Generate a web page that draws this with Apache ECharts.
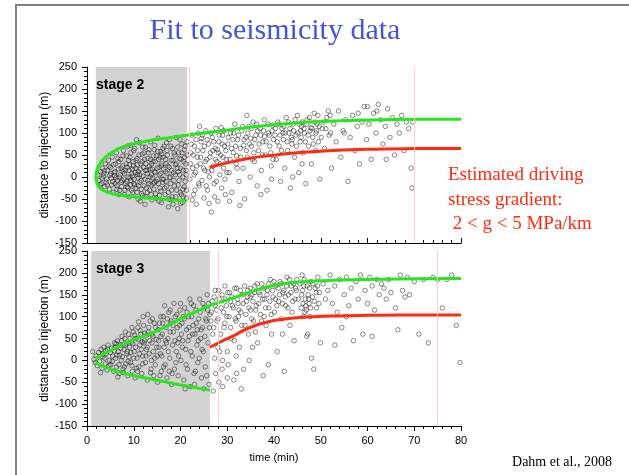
<!DOCTYPE html>
<html>
<head>
<meta charset="utf-8">
<script src="https://cdn.jsdelivr.net/npm/echarts@6/dist/echarts.min.js"></script>
<style>html,body{margin:0;padding:0;background:#fff}#c{width:629px;height:475px}</style>
</head>
<body>
<div id="c"></div>
<script>
// ---------- data ----------
const titleText = 'Fit to seismicity data';
const yTicks = { min: -150, max: 250, step: 50 };
const xTicks = { min: 0, max: 80, step: 10 };

const stage2Shade = [1.9, 21.4];
const stage2Marks = [21.9, 69.9];
const stage3Shade = [0.9, 26.3];
const stage3Marks = [28.0, 75.0];

const stage2Points = [
[2.3,5],[2.6,-8],[2.9,12],[3.1,-15],[3.3,20],[3.5,2],[3.8,-22],[3.9,30],[4.2,-5],[4.4,15],[4.6,38],[4.8,-28],[2.8,-18],[3.6,8],[4.1,-12],
[5.0,22],[5.2,-3],[5.4,45],[5.6,-35],[5.8,10],[6.0,-15],[6.1,30],[6.3,55],[6.5,-8],[6.7,18],[6.9,-40],[7.1,5],[7.2,40],[7.4,-22],[7.6,25],[7.8,60],[7.9,-5],[5.3,-18],[5.9,3],[6.4,-28],[6.8,35],[7.3,-12],[7.7,12],[5.1,8],[6.2,-2],
[8.1,-30],[8.2,15],[8.4,48],[8.5,-10],[8.7,70],[8.8,0],[9.0,-45],[9.1,28],[9.3,-18],[9.4,55],[9.6,8],[9.8,-35],[9.9,35],[10.1,-5],[10.2,65],[10.4,20],[10.5,-25],[10.7,42],[10.9,-50],[11.0,12],[11.2,78],[11.3,-12],[11.5,30],[11.7,-38],[11.8,52],[12.0,2],[8.6,-22],[9.2,-2],[10.0,-15],[10.8,6],[11.6,-28],[9.7,18],[10.6,85],[11.4,-55],[8.9,38],
[12.2,-20],[12.3,40],[12.5,68],[12.6,-45],[12.8,15],[13.0,-8],[13.1,55],[13.3,25],[13.4,-30],[13.6,80],[13.8,5],[13.9,-52],[14.1,35],[14.2,-15],[14.4,62],[14.6,10],[14.7,-38],[14.9,48],[15.1,-5],[15.2,88],[15.4,22],[15.6,-25],[15.7,58],[15.9,-58],[16.0,30],[12.9,-35],[13.5,0],[14.0,18],[14.8,-10],[15.3,40],[15.8,8],[12.4,-62],[13.7,-18],[14.5,72],[15.5,-42],
[16.2,-12],[16.3,45],[16.5,70],[16.7,-40],[16.8,12],[17.0,-22],[17.1,60],[17.3,25],[17.5,-50],[17.6,85],[17.8,0],[18.0,38],[18.1,-30],[18.3,65],[18.5,10],[18.6,-8],[18.8,50],[19.0,-45],[19.1,90],[19.3,20],[19.5,-18],[19.6,55],[19.8,5],[20.0,-60],[20.1,40],[20.3,75],[20.5,-28],[20.6,15],[20.8,62],[21.0,-10],[21.1,30],[21.3,-48],[21.4,80],[16.9,30],[17.9,-15],[18.9,28],[19.9,-35],[20.9,45],[21.2,5],[17.4,-68],[18.4,-62],[19.4,-72],[20.4,-58],[16.4,-5],
[3.2,-3],[3.7,14],[4.3,-18],[4.7,25],[4.9,4],[5.5,-10],[5.7,28],[6.0,12],[6.4,-20],[6.6,42],[6.9,0],[7.0,-30],[7.3,20],[7.5,-8],[7.7,48],[8.0,8],[8.3,-15],[8.4,30],[8.6,22],[8.8,-25],[9.0,15],[9.2,45],[9.4,-8],[9.5,-30],[9.7,2],[9.9,25],[10.0,60],[10.2,-18],[10.3,10],[10.5,38],[10.7,-35],[10.8,28],[11.0,-20],[11.1,50],[11.3,5],[11.4,18],[11.6,-8],[11.8,35],[11.9,-42],[12.1,22],[12.2,55],[12.4,-5],[12.6,30],[12.7,-25],[12.9,8],[13.0,42],[13.2,-15],[13.3,62],[13.5,18],[13.7,-40],[13.8,30],[14.0,-2],[14.2,48],[14.3,-28],[14.5,12],[14.6,35],[14.8,-48],[15.0,20],[15.1,58],[15.3,-15],[15.5,5],[15.6,45],[15.8,-32],[15.9,25],[16.1,-5],[16.2,65],[16.4,18],[16.6,-25],[16.8,40],[16.9,-10],[17.1,8],[17.2,50],[17.4,-35],[17.6,22],[17.7,-2],[17.9,70],[18.1,15],[18.2,-45],[18.4,38],[18.6,55],[18.7,-20],[18.9,5],[19.1,30],[19.2,-30],[19.4,68],[19.5,12],[19.7,-8],[19.8,42],[20.0,20],[20.2,-40],[20.3,55],[20.5,0],[20.7,35],[20.8,-22],[21.0,70],[21.2,15],[21.3,-30],[21.4,50],[10.9,-2],[12.5,15],[14.4,-12],[16.0,52],[18.0,-52],[19.9,85],[9.3,72],[8.0,-40],[11.9,68],[13.6,40],[15.4,-55],[17.0,78],[20.6,-45],
[22.0,-5],[22.2,55],[22.4,95],[22.6,20],[22.8,-40],[23.0,70],[23.2,10],[23.4,-62],[23.6,45],[23.8,100],[24.0,-20],[24.2,30],[24.4,80],[24.6,-8],[24.8,60],[25.0,-48],[25.2,15],[25.4,105],[25.6,40],[25.8,-30],[26.0,75],[26.2,0],[26.4,55],[26.6,-80],[26.8,90],[27.0,25],[27.2,-15],[27.4,65],[27.6,110],[27.8,35],[28.0,-55],[28.2,80],[28.4,5],[28.6,50],[28.8,-25],[29.0,95],[29.2,20],[29.4,70],[29.6,-40],[29.8,40],[23.1,-30],[24.5,88],[25.9,12],[27.3,-45],[28.7,112],[29.5,-5],[24.1,115],[26.1,-60],[22.5,-52],[27.9,62],
[22.1,30],[22.3,75],[22.7,50],[22.9,5],[23.3,85],[23.5,25],[23.7,60],[23.9,-15],[24.3,45],[24.7,95],[24.9,20],[25.1,70],[25.3,35],[25.5,-20],[25.7,85],[26.3,45],[26.5,100],[26.7,15],[26.9,60],[27.1,80],[27.5,40],[27.7,-10],[28.1,55],[28.3,95],[28.5,30],[28.9,75],[29.1,45],[29.3,105],[29.7,60],[29.9,10],
[30.1,75],[30.4,10],[30.7,100],[31.0,-35],[31.3,55],[31.6,120],[31.9,30],[32.2,85],[32.5,-10],[32.8,65],[33.1,105],[33.4,20],[33.7,-50],[34.0,90],[34.3,45],[34.6,115],[34.9,0],[35.2,70],[35.5,125],[35.8,35],[36.1,95],[36.4,-20],[36.7,60],[37.0,110],[37.3,15],[37.6,80],[37.9,130],[38.2,50],[38.5,-30],[38.8,100],[39.1,70],[39.4,25],[39.7,118],[31.2,85],[32.0,48],[33.5,72],[35.0,88],[36.5,105],[38.0,92],[39.5,-5],[30.5,-55],[34.2,140],[37.2,-40],[32.7,-65],[35.7,55],[39.9,85],
[30.2,90],[30.6,40],[30.9,65],[31.4,100],[31.8,70],[32.1,20],[32.4,95],[32.9,45],[33.3,115],[33.6,85],[34.1,60],[34.4,100],[34.8,75],[35.1,110],[35.4,40],[35.9,85],[36.3,120],[36.8,75],[37.1,95],[37.5,50],[37.8,105],[38.3,80],[38.7,120],[39.0,95],[39.3,55],[39.6,105],[39.8,40],
[40.2,95],[40.5,40],[40.8,125],[41.1,70],[41.4,-10],[41.7,110],[42.0,85],[42.3,20],[42.6,135],[42.9,60],[43.2,100],[43.5,-25],[43.8,75],[44.1,120],[44.4,45],[44.7,95],[45.0,140],[45.3,10],[45.6,80],[45.9,115],[46.2,55],[46.5,100],[46.8,-15],[47.1,130],[47.4,70],[47.7,105],[48.0,30],[48.3,90],[48.6,145],[48.9,60],[49.2,120],[49.5,80],[49.8,-5],[41.9,100],[43.9,85],[45.7,105],[47.9,112],[44.0,0],[46.0,30],[49.0,100],
[40.3,110],[40.7,80],[41.0,120],[41.3,95],[41.6,60],[42.1,115],[42.4,100],[42.8,80],[43.1,125],[43.4,110],[43.7,90],[44.2,105],[44.5,130],[44.8,70],[45.1,100],[45.4,120],[45.8,90],[46.1,125],[46.4,110],[46.7,80],[47.0,120],[47.3,95],[47.6,135],[48.1,110],[48.4,75],[48.8,125],[49.1,105],[49.4,140],[49.7,115],
[50.3,110],[50.8,65],[51.3,135],[51.8,95],[52.3,20],[52.8,120],[53.3,80],[53.8,150],[54.3,45],[54.8,105],[55.3,130],[55.8,-10],[56.3,90],[56.8,140],[57.3,60],[57.8,115],[58.3,30],[58.8,125],[59.3,160],[59.8,85],[60.3,120],[60.8,40],[61.3,145],[61.8,100],[62.3,165],[62.8,130],[63.3,75],[63.8,115],[64.3,155],[64.8,90],[65.3,135],[65.8,50],[66.3,120],[66.8,100],[67.3,140],[67.8,60],[68.3,125],[68.8,110],[69.3,20],[69.5,-25],[69.7,125],[62.0,150],[60.0,160],[55.0,100],[52.0,140],[58.0,145],[64.0,40],
[50.1,90],[50.6,125],[51.1,110],[51.6,150],[52.1,100]
];

const stage3Points = [
[1.5,2],[1.8,-5],[2.0,10],[2.2,-12],[2.5,18],[2.7,-2],[3.0,25],[3.2,-18],[3.4,8],[3.6,30],[3.9,-8],[4.1,15],[4.3,-22],[4.5,35],[4.8,0],[1.2,20],[2.9,-28],[4.0,22],
[5.1,-10],[5.3,28],[5.5,10],[5.7,-25],[5.9,40],[6.1,5],[6.3,-15],[6.5,45],[6.7,20],[6.9,-30],[7.1,35],[7.3,0],[7.5,55],[7.7,-20],[7.9,25],[8.1,50],[8.3,-8],[8.5,15],[8.7,-35],[8.9,60],[9.1,30],[9.3,-5],[9.5,42],[9.7,-25],[9.9,65],[6.0,30],[7.0,12],[8.0,-15],[9.0,8],[6.6,-38],[8.4,38],
[10.1,20],[10.3,-40],[10.5,50],[10.7,5],[10.9,75],[11.1,-15],[11.3,35],[11.5,60],[11.7,-30],[11.9,10],[12.1,80],[12.3,45],[12.5,-5],[12.7,25],[12.9,-45],[13.1,65],[13.3,15],[13.5,90],[13.7,-20],[13.9,40],[14.1,55],[14.3,-35],[14.5,5],[14.7,75],[14.9,30],[10.8,-25],[11.8,42],[12.8,58],[13.8,0],[14.6,-10],[12.0,100],[14.0,95],
[15.1,-50],[15.3,45],[15.5,85],[15.7,15],[15.9,-25],[16.1,60],[16.3,100],[16.5,30],[16.7,-10],[16.9,75],[17.1,-40],[17.3,50],[17.5,110],[17.7,5],[17.9,85],[18.1,-55],[18.3,35],[18.5,65],[18.7,-20],[18.9,100],[19.1,20],[19.3,75],[19.5,-35],[19.7,50],[19.9,115],[16.0,10],[17.0,40],[18.0,90],[19.0,-5],[15.6,-35],[17.6,-25],[19.4,40],[16.6,125],[18.6,130],
[20.1,0],[20.3,85],[20.5,45],[20.7,-45],[20.9,120],[21.1,25],[21.3,70],[21.5,-20],[21.7,100],[21.9,55],[22.1,-60],[22.3,130],[22.5,10],[22.7,80],[22.9,-30],[23.1,60],[23.3,115],[23.5,35],[23.7,-5],[23.9,95],[24.1,140],[24.3,50],[24.5,-40],[24.7,75],[24.9,20],[25.1,120],[25.3,-15],[25.5,90],[25.7,150],[25.9,40],[26.1,-55],[26.3,105],[21.0,-65],[23.0,-55],[25.0,-65],[22.0,140],[24.0,5],[26.0,130],[20.6,100],[23.6,70],
[3.3,14],[3.8,5],[4.4,25],[4.7,-12],[5.0,18],[5.4,-2],[5.8,22],[6.2,38],[6.4,12],[6.8,-10],[7.2,28],[7.4,45],[7.6,8],[7.8,-28],[8.2,35],[8.6,20],[8.8,-2],[9.2,50],[9.4,18],[9.6,-12],[9.8,38],[10.0,5],[10.2,58],[10.4,30],[10.6,-18],[11.0,48],[11.2,15],[11.4,68],[11.6,25],[11.9,-8],[12.2,40],[12.4,62],[12.6,10],[12.9,30],[13.2,75],[13.4,45],[13.6,-28],[13.9,60],[14.2,20],[14.4,85],[14.8,48],[15.0,10],[15.2,70],[15.4,30],[15.8,55],[16.2,85],[16.4,-15],[16.8,45],[17.2,95],[17.4,20],[17.8,65],[18.2,-30],[18.4,80],[18.8,45],[19.2,105],[19.6,10],[19.8,80],[20.2,60],[20.4,30],[20.8,95],[21.2,-10],[21.4,110],[21.6,45],[21.8,75],[22.2,20],[22.4,100],[22.6,60],[22.8,125],[23.2,-25],[23.4,85],[23.8,45],[24.2,110],[24.4,70],[24.6,25],[24.8,130],[25.2,55],[25.4,95],[25.6,-35],[25.8,115],[26.2,75],[15.8,100],[17.8,115],[20.0,130],[13.0,105],[11.0,88],[9.6,75],[8.2,65],
[26.6,110],[26.9,60],[27.2,145],[27.5,-30],[27.8,90],[28.1,160],[28.4,20],[28.7,120],[29.0,-60],[29.3,75],[29.6,140],[29.9,100],[30.2,-10],[30.5,155],[30.8,50],[31.1,125],[31.4,-45],[31.7,95],[32.0,165],[32.3,130],[32.6,30],[32.9,110],[33.2,150],[33.5,-20],[33.8,80],[34.1,135],[34.4,160],[34.7,0],[35.0,115],[27.0,-70],[28.0,30],[29.5,170],[30.0,-40],[31.5,45],[33.0,-65],[34.5,60],[27.4,125],[30.7,135],[32.4,100],[34.9,145],[28.9,-20],[31.9,10],
[26.5,90],[26.8,135],[27.1,75],[27.4,160],[27.7,115],[28.0,95],[28.3,140],[28.6,60],[28.9,150],[29.2,110],[29.5,85],[29.8,125],[30.1,155],[30.4,100],[30.7,75],[31.0,145],[31.3,120],[31.6,165],[31.9,90],[32.2,140],[32.5,115],[32.8,160],[33.1,80],[33.4,130],[33.7,170],[34.0,105],[34.3,145],[34.6,120],[34.9,165],[30.0,20],[32.0,-30],[29.0,0],[27.3,5],[28.2,-50],
[35.3,150],[35.6,90],[35.9,170],[36.2,125],[36.5,40],[36.8,155],[37.1,105],[37.4,175],[37.7,-35],[38.0,140],[38.3,80],[38.6,160],[38.9,120],[39.2,185],[39.5,60],[39.8,145],[40.1,110],[40.4,170],[40.7,20],[41.0,135],[41.3,180],[41.6,95],[41.9,155],[42.2,-25],[42.5,125],[42.8,190],[43.1,150],[43.4,80],[43.7,170],[44.0,135],[44.3,45],[44.6,165],[44.9,185],[36.0,65],[38.8,-10],[41.8,60],[43.9,110],[37.9,100],
[35.2,95],[35.5,135],[35.8,155],[36.1,115],[36.4,175],[36.7,130],[37.0,150],[37.3,90],[37.6,140],[37.9,165],[38.2,120],[38.5,150],[38.8,175],[39.1,135],[39.4,105],[39.7,160],[40.0,180],[40.3,140],[40.6,125],[40.9,165],[41.2,150],[41.5,175],[41.8,130],[42.1,160],[42.4,145],[42.7,170],[43.0,120],[43.3,185],[43.6,155],[44.2,175],[44.5,140],[44.8,160],[35.4,30],
[45.2,140],[45.5,175],[45.8,120],[46.1,160],[46.3,100],[46.5,185],[46.7,140],[46.9,115],[47.1,170],[47.3,150],[47.5,130],[47.7,100],[47.9,180],[48.2,145],[48.5,-20],[48.8,165],[49.1,120],[49.4,190],[49.7,155],[47.0,55],[46.0,195],[48.0,5],[49.9,40],[47.2,60],[46.8,125],[45.9,150],
[46.2,130],[46.4,170],[46.6,110],[47.4,140],[47.6,165],[47.8,120],[48.3,175],[48.6,135],[49.0,155],[49.3,170],[49.6,130],
[50.5,175],[51.0,140],[51.5,160],[52.0,195],[52.5,130],[53.0,170],[53.5,110],[54.0,185],[54.5,75],[55.0,150],[55.5,190],[56.0,125],[56.5,165],[57.0,45],[57.5,180],[58.0,140],[58.5,195],[59.0,60],[59.5,160],[60.0,130],[60.5,190],[61.0,170],[61.5,115],[62.0,185],[62.5,150],[63.0,175],[63.5,165],[64.0,140],[65.0,155],[66.0,120],[66.5,70],[67.0,195],[67.5,160],[68.0,145],[68.5,190],[69.0,150],[70.0,180],[71.0,60],[72.0,185],[73.0,40],[74.0,190],[75.0,185],[76.0,120],[77.0,185],[78.0,195],[79.0,80],[79.8,-5],[61.0,55],[53.0,35],[55.5,100],[64.5,185]
];

const stage2Green = [
[21.3,-55],[18,-52],[14,-48.5],[11.5,-46.5],[9,-44],[6.8,-41],[5.5,-38],[4,-33],[3,-27],[2.3,-18],[2.0,-8],[1.9,0],[2.0,10],[2.3,22],[3,34],[4,46],[5.5,57],[6.8,65],[9,73],[11.5,79],[14,84],[18,90],[21.4,95],[25,100],[29,105],[32.6,110],[38.3,117],[45,123],[52.5,127],[61,129.5],[70,131],[80,131.5]
];
const stage2Red = [
[26.2,22],[28,27],[31.2,35],[34.5,42],[38.3,48],[42,52],[45.5,55.5],[52.6,60],[59.8,63],[70,64.5],[80,65]
];
const stage3GreenUpper = [
[1.8,4],[4,17],[6.8,32],[10,47],[14,63],[17.5,81],[21.1,101],[24,115],[26.3,125],[28.5,133],[31.1,142],[34.5,155],[38.3,167],[41.9,175],[45.4,179],[52.6,183],[60,185],[66.8,186],[80,187]
];
const stage3GreenLower = [
[1.8,-5],[4,-16],[6.8,-26],[10,-35],[14,-43],[17.5,-51],[21.1,-58],[24,-64],[26.3,-68]
];
const stage3Red = [
[26.3,30],[28.5,42],[31.1,55],[34.6,74],[38.3,87],[41.9,94],[45.4,98],[52.6,101.5],[60,103],[66.8,103.5],[80,104]
];

// ---------- styles ----------
const GREEN = '#27e61c';
const RED = '#ff2a10';
const sansFont = '"Liberation Sans", Arial, Helvetica, sans-serif';
const serifFont = '"Liberation Serif", "Times New Roman", serif';

function yAxisCfg(gridIndex) {
  return {
    type: 'value', gridIndex, min: yTicks.min, max: yTicks.max, interval: yTicks.step,
    name: 'distance to injection (m)', nameLocation: 'middle', nameRotate: 90, nameGap: 36,
    nameMoveOverlap: false,
    nameTextStyle: { fontFamily: sansFont, fontSize: 12, color: '#000' },
    axisLine: { show: true, lineStyle: { color: '#000', width: 1 } },
    axisTick: { show: true, inside: false, length: 5, lineStyle: { color: '#000' } },
    minorTick: { show: true, splitNumber: 5, length: 3, lineStyle: { color: '#000' } },
    axisLabel: { fontFamily: sansFont, fontSize: 11, color: '#000', margin: 10 },
    splitLine: { show: false }
  };
}
function xAxisCfg(gridIndex, showLabels) {
  return {
    type: 'value', gridIndex, min: xTicks.min, max: xTicks.max, interval: xTicks.step,
    name: showLabels ? 'time (min)' : '', nameLocation: 'middle', nameGap: 26,
    nameMoveOverlap: false,
    nameTextStyle: { fontFamily: sansFont, fontSize: 11, color: '#000' },
    axisLine: { show: true, onZero: false, lineStyle: { color: '#000', width: 1 } },
    axisTick: { show: true, inside: !showLabels, length: 5, lineStyle: { color: '#000' } },
    minorTick: { show: true, splitNumber: 5, length: 3, lineStyle: { color: '#000' } },
    axisLabel: { show: showLabels, fontFamily: sansFont, fontSize: 11, color: '#000', margin: 9 },
    splitLine: { show: false }
  };
}
function backdrop(idx, shade, marks) {
  return {
    type: 'line', xAxisIndex: idx, yAxisIndex: idx, data: [], silent: true, z: 1,
    markArea: { silent: true, itemStyle: { color: '#d3d3d3' }, data: [[{ xAxis: shade[0] }, { xAxis: shade[1] }]] },
    markLine: { silent: true, symbol: 'none', label: { show: false },
      lineStyle: { color: '#ffcccc', width: 1, type: 'solid' },
      data: marks.map(v => ({ xAxis: v })) }
  };
}
function scatter(idx, pts) {
  return {
    type: 'scatter', xAxisIndex: idx, yAxisIndex: idx, data: pts, z: 2,
    symbol: 'circle', symbolSize: 4.5, silent: true, large: false,
    itemStyle: { color: 'rgba(0,0,0,0)', borderColor: 'rgba(0,0,0,0.72)', borderWidth: 0.8 }
  };
}
function curve(idx, pts, color) {
  return {
    type: 'line', xAxisIndex: idx, yAxisIndex: idx, data: pts, z: 3, smooth: 0.4,
    showSymbol: false, silent: true, lineStyle: { color, width: 3 }
  };
}

const chart = echarts.init(document.getElementById('c'), null, { renderer: 'canvas' });
chart.setOption({
  animation: false,
  backgroundColor: '#fff',
  grid: [
    { left: 87, top: 67, width: 374, height: 176 },
    { left: 87, top: 251, width: 374, height: 175 }
  ],
  xAxis: [xAxisCfg(0, false), xAxisCfg(1, true)],
  yAxis: [yAxisCfg(0), yAxisCfg(1)],
  series: [
    backdrop(0, stage2Shade, stage2Marks),
    backdrop(1, stage3Shade, stage3Marks),
    scatter(0, stage2Points),
    scatter(1, stage3Points),
    curve(0, stage2Green, GREEN),
    curve(0, stage2Red, RED),
    curve(1, stage3GreenUpper, GREEN),
    curve(1, stage3GreenLower, GREEN),
    curve(1, stage3Red, RED)
  ],
  graphic: [
    { type: 'rect', shape: { x: 16, y: 5, width: 700, height: 600 }, style: { fill: 'none', stroke: '#7f7f7f', lineWidth: 2 }, z: 100, silent: true },
    { type: 'text', x: 275, y: 31, z: 100, style: { text: titleText, font: '30px ' + serifFont, fill: '#4454dc', textAlign: 'center', textVerticalAlign: 'middle' } },
    { type: 'text', x: 96, y: 85, z: 100, style: { text: 'stage 2', font: 'bold 14px ' + sansFont, fill: '#000', textAlign: 'left', textVerticalAlign: 'middle' } },
    { type: 'text', x: 96, y: 269, z: 100, style: { text: 'stage 3', font: 'bold 14px ' + sansFont, fill: '#000', textAlign: 'left', textVerticalAlign: 'middle' } },
    { type: 'text', x: 448, y: 163, z: 100, style: { text: 'Estimated driving\nstress gradient:\n 2 < g < 5 MPa/km', font: '19px ' + serifFont, lineHeight: 24.5, fill: RED, textAlign: 'left', textVerticalAlign: 'top' } },
    { type: 'text', x: 562, y: 462, z: 100, style: { text: 'Dahm et al., 2008', font: '14px ' + serifFont, fill: '#000', textAlign: 'center', textVerticalAlign: 'middle' } }
  ]
});
</script>
</body>
</html>
